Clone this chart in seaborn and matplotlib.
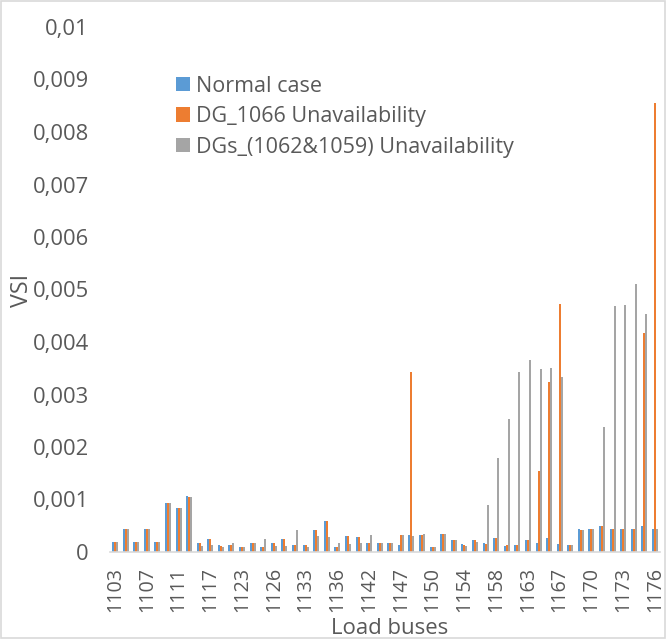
import numpy as np
import pandas as pd
import seaborn as sns
import matplotlib
matplotlib.use("Agg")
import matplotlib.pyplot as plt
from matplotlib.patches import Rectangle
from matplotlib.ticker import FuncFormatter

buses = [1103, 1104, 1105, 1107, 1108, 1109, 1111, 1113, 1115, 1117, 1119, 1121,
         1123, 1124, 1125, 1126, 1128, 1130, 1133, 1134, 1135, 1136, 1138, 1140,
         1142, 1144, 1145, 1147, 1148, 1149, 1150, 1151, 1152, 1154, 1155, 1156,
         1158, 1160, 1161, 1163, 1164, 1165, 1167, 1168, 1169, 1170, 1171, 1172,
         1173, 1174, 1175, 1176]

normal_case = [0.00019, 0.00043, 0.00019, 0.00043, 0.00019, 0.00093, 0.00083, 0.00106,
               0.00018, 0.00025, 0.00013, 0.00013, 0.00010, 0.000165, 0.00010, 0.000165,
               0.00025, 0.00013, 0.00013, 0.00041, 0.00060, 0.00010, 0.00031, 0.00029,
               0.00017, 0.000165, 0.000165, 0.00013, 0.00032, 0.00033, 0.00010, 0.00034,
               0.00022, 0.00015, 0.00022, 0.00018, 0.00027, 0.00012, 0.00014, 0.00022,
               0.00017, 0.00027, 0.00016, 0.00014, 0.00043, 0.00044, 0.00049, 0.00044,
               0.00043, 0.00044, 0.00050, 0.00044]

dg_1066 = [0.00019, 0.00043, 0.00019, 0.00043, 0.00019, 0.00093, 0.00083, 0.00104,
           0.00018, 0.00025, 0.00012, 0.00013, 0.00010, 0.000165, 0.00010, 0.000165,
           0.00025, 0.00013, 0.00013, 0.00041, 0.00060, 0.00010, 0.00031, 0.00029,
           0.00017, 0.000165, 0.000165, 0.00033, 0.00343, 0.00032, 0.00010, 0.00034,
           0.00022, 0.00013, 0.00022, 0.00016, 0.00027, 0.00014, 0.00014, 0.00023,
           0.00154, 0.00323, 0.00473, 0.00014, 0.00041, 0.00044, 0.00049, 0.00044,
           0.00044, 0.00044, 0.00418, 0.00856]

dgs_1062_1059 = [0.00019, 0.00043, 0.00019, 0.00043, 0.00019, 0.00093, 0.00083, 0.00104,
                 0.00012, 0.00013, 0.00010, 0.00017, 0.00010, 0.000165, 0.00025, 0.00012,
                 0.00012, 0.00041, 0.00010, 0.00031, 0.00029, 0.00017, 0.00015, 0.00017,
                 0.00033, 0.000165, 0.000165, 0.00033, 0.00031, 0.00034, 0.00010, 0.00034,
                 0.00022, 0.00012, 0.00020, 0.00090, 0.00180, 0.00254, 0.00343, 0.00366,
                 0.00349, 0.00350, 0.00334, 0.00014, 0.00041, 0.00044, 0.00239, 0.00469,
                 0.00471, 0.00510, 0.00453, 0.00044]

series_names = ["Normal case", "DG_1066 Unavailability", "DGs_(1062&1059) Unavailability"]
colors = ["#5B9BD5", "#ED7D31", "#A5A5A5"]

bus_labels = [str(b) for b in buses]
df = pd.DataFrame({
    "bus": bus_labels * 3,
    "VSI": normal_case + dg_1066 + dgs_1062_1059,
    "case": [series_names[0]] * len(buses) + [series_names[1]] * len(buses) + [series_names[2]] * len(buses),
})

sns.set_theme(style="white")
plt.rcParams['font.family'] = ['Open Sans', 'DejaVu Sans']
text_color = "#595959"

W, H = 666, 639
fig = plt.figure(figsize=(W / 100, H / 100), dpi=100)
fig.patch.set_facecolor("white")
renderer = fig.canvas.get_renderer()


def fit_size(text, target_px, base=20.0):
    t = fig.text(0, 0, text, fontsize=base)
    w = t.get_window_extent(renderer).width
    t.remove()
    return base * target_px / w


def text_height(text, size):
    t = fig.text(0, 0, text, fontsize=size)
    h = t.get_window_extent(renderer).height
    t.remove()
    return h


fs_ytick = fit_size("0,009", 56)
fs_xtick = fit_size("1103", 45)
fs_xlabel = fit_size("Load buses", 117)
fs_ylabel = fit_size("VSI", 33)
fs_leg = fit_size(series_names[2], 318)

ax = fig.add_axes([109.7 / W, 87 / H, 550.6 / W, 525 / H])

sns.barplot(data=df, x="bus", y="VSI", hue="case", order=bus_labels,
            hue_order=series_names, palette=colors, width=0.57, saturation=1,
            ax=ax, linewidth=0)

ax.set_xlim(-0.5, len(buses) - 0.5)
ax.set_ylim(0, 0.01)
ax.set_yticks(np.arange(0, 0.0101, 0.001))


def fmt(v, pos):
    if abs(v) < 1e-12:
        return "0"
    return f"{v:.3f}".rstrip("0").replace(".", ",")


ax.yaxis.set_major_formatter(FuncFormatter(fmt))
idx = list(range(0, len(buses), 3))
ax.set_xticks(idx)
ax.set_xticklabels([bus_labels[i] for i in idx], rotation=90)

for s in ["top", "right", "left"]:
    ax.spines[s].set_visible(False)
ax.spines["bottom"].set_color("#D9D9D9")
ax.spines["bottom"].set_linewidth(1.2)
ax.tick_params(axis="both", length=0, colors=text_color)
ax.tick_params(axis="y", labelsize=fs_ytick, pad=15)
ax.tick_params(axis="x", labelsize=fs_xtick, pad=10.5)
ax.set_xlabel("")
ax.set_ylabel("")
ax.grid(False)

fig.text(390 / W, 1 - 634 / H, "Load buses", ha="center", va="baseline",
         fontsize=fs_xlabel, color=text_color)
fig.text(34 / W, 1 - 290 / H, "VSI", ha="right", va="center", rotation=90,
         fontsize=fs_ylabel, color=text_color)

fs_px = fs_leg * 100 / 72
th = text_height(series_names[0], fs_leg)
handles, labels = ax.get_legend_handles_labels()
ax.legend(handles, labels, loc="upper left",
          bbox_to_anchor=(176 / W, 1 - (86 - th / 2) / H),
          bbox_transform=fig.transFigure, frameon=False, fontsize=fs_leg,
          handlelength=14 / fs_px, handleheight=14 / fs_px, handletextpad=6 / fs_px,
          labelspacing=(30.5 - th) / fs_px, borderpad=0, borderaxespad=0,
          labelcolor=text_color)

fig.add_artist(Rectangle((0.75 / W, 0.75 / H), 1 - 1.5 / W, 1 - 1.5 / H,
                         transform=fig.transFigure, fill=False,
                         edgecolor="#D9D9D9", linewidth=1.2))

fig.savefig("out.png", dpi=100)
